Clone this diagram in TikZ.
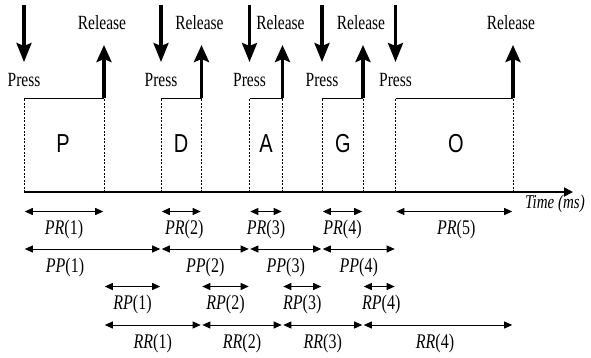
\documentclass[tikz,border=0pt]{standalone}
\usepackage{fontspec}
\usepackage{graphicx}
\setmainfont{Liberation Serif}
\newfontfamily\letterfont{Liberation Sans}
\newcommand{\tallbox}[1]{\scalebox{1}[1.3]{#1}}
\usetikzlibrary{arrows.meta,calc}
\begin{document}
\begin{tikzpicture}[x=1pt,y=-1pt,
 lbl/.style={font=\fontsize{15.5}{16}\selectfont, inner sep=0pt},
 ilbl/.style={font=\fontsize{16}{17}\selectfont\itshape, inner sep=0pt},
 letter/.style={font=\letterfont\fontsize{20}{22}\selectfont, inner sep=0pt},
 guide/.style={dash pattern=on 2pt off 1.5pt, line width=0.6pt},
 boxtop/.style={line width=0.9pt},
 pressarrow/.style={line width=3.2pt, -{Stealth[length=19pt,width=15pt,inset=3pt]}},
 relarrow/.style={line width=3.8pt, -{Stealth[length=17pt,width=15pt,inset=3pt]}},
 axisline/.style={line width=1.8pt, -{Triangle[length=9pt,width=9pt]}},
 dim/.style={line width=0.9pt, {Triangle[length=8pt,width=7pt]}-{Triangle[length=8pt,width=7pt]}, shorten <=0.8pt, shorten >=0.8pt},
 dimlbl/.style={ilbl, midway, anchor=center, yshift=-18pt}
]
\useasboundingbox (0,0) rectangle (591,357);
% time points on the axis
\coordinate (p1) at (24,192);   \coordinate (r1) at (104,192);
\coordinate (p2) at (161,192);  \coordinate (r2) at (201.5,192);
\coordinate (p3) at (249.5,192);\coordinate (r3) at (282.5,192);
\coordinate (p4) at (322,192);  \coordinate (r4) at (363,192);
\coordinate (p5) at (395.5,192);\coordinate (r5) at (513,192);
\coordinate (axend) at (573,192);
% row levels
\coordinate (toplevel) at (0,98);
\coordinate (presstop) at (0,5);
\coordinate (presstip) at (0,62);
\coordinate (reltip) at (0,45);
\coordinate (rowPR) at (0,211.5);
\coordinate (rowPP) at (0,249);
\coordinate (rowRP) at (0,286.5);
\coordinate (rowRR) at (0,325);

% axis
\draw[axisline] (p1) -- (axend);
\node[ilbl, font=\fontsize{15}{16}\selectfont\itshape] (time) at (555,204) {\tallbox{Time (ms)}};

% key boxes
\foreach \i in {1,...,5}{
  \draw[guide] (p\i) -- (p\i |- toplevel);
  \draw[guide] (r\i) -- (r\i |- toplevel);
  \draw[boxtop] (p\i |- toplevel) -- (r\i |- toplevel);
  \draw[pressarrow] (p\i |- presstop) -- (p\i |- presstip);
  \node[lbl] (press\i) at ($(p\i |- presstip)+(0,17.5)$) {\tallbox{Press}};
  \draw[relarrow] (r\i |- toplevel) -- (r\i |- reltip);
  \node[lbl] (rel\i) at ($(r\i |- reltip)+(-2,-22.5)$) {\tallbox{Release}};
}
\node[letter] (kP) at (63,144) {\tallbox{P}};
\node[letter] (kD) at (181,144) {\tallbox{D}};
\node[letter] (kA) at (266,144) {\tallbox{A}};
\node[letter] (kG) at (343,144) {\tallbox{G}};
\node[letter] (kO) at (456,144) {\tallbox{O}};

% PR row
\draw[dim] (p1 |- rowPR) -- node[dimlbl] (PR1) {\tallbox{PR\upshape(1)}} (r1 |- rowPR);
\draw[dim] (p2 |- rowPR) -- node[dimlbl, xshift=3pt] (PR2) {\tallbox{PR\upshape(2)}} (r2 |- rowPR);
\draw[dim] (p3 |- rowPR) -- node[dimlbl] (PR3) {\tallbox{PR\upshape(3)}} (r3 |- rowPR);
\draw[dim] (p4 |- rowPR) -- node[dimlbl] (PR4) {\tallbox{PR\upshape(4)}} (r4 |- rowPR);
\draw[dim] (p5 |- rowPR) -- node[dimlbl, xshift=2pt] (PR5) {\tallbox{PR\upshape(5)}} (r5 |- rowPR);
% PP row
\draw[dim] (p1 |- rowPP) -- (p2 |- rowPP);
\node[ilbl] (PP1) at (65,267) {\tallbox{PP\upshape(1)}};
\draw[dim] (p2 |- rowPP) -- node[dimlbl] (PP2) {\tallbox{PP\upshape(2)}} (p3 |- rowPP);
\draw[dim] (p3 |- rowPP) -- node[dimlbl] (PP3) {\tallbox{PP\upshape(3)}} (p4 |- rowPP);
\draw[dim] (p4 |- rowPP) -- node[dimlbl] (PP4) {\tallbox{PP\upshape(4)}} (p5 |- rowPP);
% RP row
\draw[dim] (r1 |- rowRP) -- node[dimlbl] (RP1) {\tallbox{RP\upshape(1)}} (p2 |- rowRP);
\draw[dim] (r2 |- rowRP) -- node[dimlbl] (RP2) {\tallbox{RP\upshape(2)}} (p3 |- rowRP);
\draw[dim] (r3 |- rowRP) -- node[dimlbl] (RP3) {\tallbox{RP\upshape(3)}} (p4 |- rowRP);
\draw[dim] (r4 |- rowRP) -- node[dimlbl, xshift=2pt] (RP4) {\tallbox{RP\upshape(4)}} (p5 |- rowRP);
% RR row
\draw[dim] (r1 |- rowRR) -- node[dimlbl] (RR1) {\tallbox{RR\upshape(1)}} (r2 |- rowRR);
\draw[dim] (r2 |- rowRR) -- node[dimlbl] (RR2) {\tallbox{RR\upshape(2)}} (r3 |- rowRR);
\draw[dim] (r3 |- rowRR) -- node[dimlbl] (RR3) {\tallbox{RR\upshape(3)}} (r4 |- rowRR);
\draw[dim] (r4 |- rowRR) -- node[dimlbl, xshift=-3pt] (RR4) {\tallbox{RR\upshape(4)}} (r5 |- rowRR);
\end{tikzpicture}
\end{document}
